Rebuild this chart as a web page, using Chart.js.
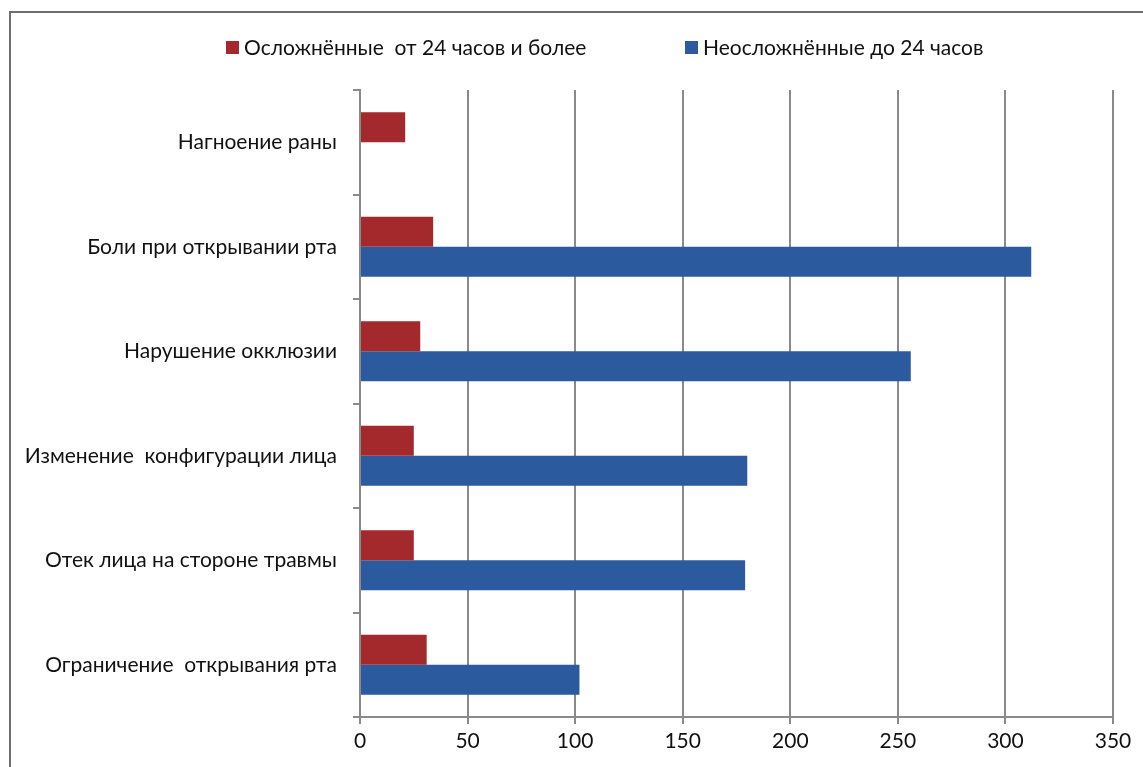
<!DOCTYPE html>
<html>
<head>
<meta charset="utf-8">
<script src="https://cdn.jsdelivr.net/npm/chart.js@4"></script>
<style>
html,body{margin:0;padding:0;background:#fff;}
#wrap{width:1143px;height:767px;position:relative;}
</style>
</head>
<body>
<div id="wrap"><canvas id="chart" width="1143" height="767"></canvas></div>
<script>
const categories = [
  "Нагноение раны",
  "Боли при открывании рта",
  "Нарушение окклюзии",
  "Изменение  конфигурации лица",
  "Отек лица на стороне травмы",
  "Ограничение  открывания рта"
]
const complicated = [21, 34, 28, 25, 25, 31]
const uncomplicated = [0, 312, 256, 180, 179, 102]
const seriesNames = ["Осложнённые  от 24 часов и более", "Неосложнённые до 24 часов"]
const xTicks = [0, 50, 100, 150, 200, 250, 300, 350]

const FONT = "Lato"
const FONT_SIZE = 21

// frame around the chart (right and bottom sides fall outside the picture)
const framePlugin = {
  id: "frame",
  beforeDraw(chart){
    const c = chart.ctx
    c.save()
    c.strokeStyle = "#6e6e6e"
    c.lineWidth = 2
    c.beginPath()
    c.moveTo(10, 767)
    c.lineTo(10, 12)
    c.lineTo(1143, 12)
    c.stroke()
    c.restore()
  }
}

// legend drawn by hand so the wide gap between items can be kept
const legendPlugin = {
  id: "topLegend",
  afterDraw(chart){
    const c = chart.ctx
    const starts = [226, 685]
    c.save()
    c.font = FONT_SIZE + "px " + FONT
    c.textBaseline = "middle"
    chart.data.datasets.forEach((ds, i) => {
      c.fillStyle = ds.backgroundColor
      c.fillRect(starts[i], 41, 13, 13)
      c.fillStyle = "#111"
      c.fillText(ds.label, starts[i] + 18, 48)
    })
    c.restore()
  }
}

new Chart(document.getElementById("chart").getContext("2d"), {
  type: "bar",
  data: {
    labels: categories,
    datasets: [{
      label: seriesNames[0],
      data: complicated,
      backgroundColor: "#a3292d",
      categoryPercentage: 0.575,
      barPercentage: 1
    },{
      label: seriesNames[1],
      data: uncomplicated,
      backgroundColor: "#2b5a9f",
      categoryPercentage: 0.575,
      barPercentage: 1
    }]
  },
  options: {
    indexAxis: "y",
    responsive: false,
    animation: false,
    layout: {padding: {top: 90, right: 30, bottom: 0, left: 0}},
    plugins: {
      legend: {display: false},
      tooltip: {enabled: false}
    },
    scales: {
      x: {
        min: 0,
        max: 350,
        afterBuildTicks(scale){
          scale.ticks = xTicks.map(v => ({value: v}))
        },
        afterFit(scale){ scale.height = 50 },
        grid: {
          color: "#8a8a8a",
          lineWidth: 2,
          tickLength: 7,
          drawTicks: true
        },
        border: {color: "#8a8a8a", width: 2},
        ticks: {
          color: "#111",
          font: {family: FONT, size: FONT_SIZE},
          padding: 5
        }
      },
      y: {
        afterFit(scale){ scale.width = 360 },
        grid: {
          offset: true,
          drawOnChartArea: false,
          color: "#8a8a8a",
          lineWidth: 2,
          tickLength: 7
        },
        border: {color: "#8a8a8a", width: 2},
        ticks: {
          color: "#111",
          font: {family: FONT, size: FONT_SIZE},
          padding: 16
        }
      }
    }
  },
  plugins: [framePlugin, legendPlugin]
})
</script>
</body>
</html>
